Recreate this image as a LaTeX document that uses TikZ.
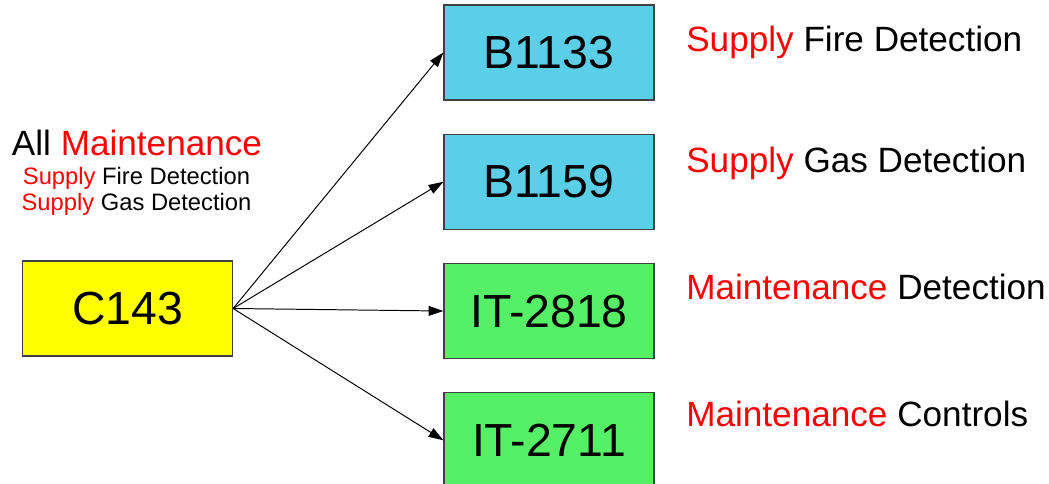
\documentclass[tikz,border=0pt]{standalone}
\usepackage{fontspec}
\setmainfont{Liberation Sans}
\usetikzlibrary{arrows.meta, positioning}

\definecolor{boxcyan}{RGB}{91,207,232}
\definecolor{boxgreen}{RGB}{85,240,101}
\definecolor{boxyellow}{RGB}{255,255,0}

\begin{document}
\begin{tikzpicture}[
    node distance=0.825cm and 5.275cm,
    tagnode/.style={draw=black!75, line width=0.9pt, minimum width=5.25cm, minimum height=2.375cm, inner sep=0pt, font=\fontsize{33pt}{38pt}\selectfont},
    supplynode/.style={tagnode, fill=boxcyan},
    maintnode/.style={tagnode, fill=boxgreen},
    note/.style={anchor=base west, inner sep=0pt, font=\fontsize{25pt}{30pt}\selectfont},
    headnote/.style={anchor=base, inner sep=0pt, font=\fontsize{25pt}{30pt}\selectfont},
    subnote/.style={anchor=base, inner sep=0pt, font=\fontsize{16.9pt}{20pt}\selectfont},
    arrow/.style={-{Triangle[length=10.5pt, width=7pt]}, line width=0.7pt},
]
\useasboundingbox (0,0) rectangle (26.225,-12.1);

% Nodes
\node[tagnode, fill=boxyellow] (c143) at (3.1875,-7.7125) {C143};
\node[supplynode] (b1133) at (13.725,-1.3125) {B1133};
\node[supplynode, below=of b1133] (b1159) {B1159};
\node[maintnode, below=of b1159] (it2818) {IT-2818};
\node[maintnode, below=of it2818] (it2711) {IT-2711};

% Text over C143
\node[headnote] (allmaint) at (3.425,-3.9) {All \textcolor{red}{Maintenance}};
\node[subnote] (subfire) at (3.4125,-4.625) {\textcolor{red}{Supply} Fire Detection};
\node[subnote] (subgas) at (3.4125,-5.275) {\textcolor{red}{Supply} Gas Detection};

% Text beside each box
\node[note] (lblfire) at (17.15,-1.3) {\textcolor{red}{Supply} Fire Detection};
\node[note] (lblgas) at (17.15,-4.325) {\textcolor{red}{Supply} Gas Detection};
\node[note] (lbldet) at (17.15,-7.475) {\textcolor{red}{Maintenance} Detection};
\node[note] (lblctrl) at (17.15,-10.675) {\textcolor{red}{Maintenance} Controls};

% Arrows
\draw[arrow] (c143.east) -- (b1133.west);
\draw[arrow] (c143.east) -- (b1159.west);
\draw[arrow] (c143.east) -- (it2818.west);
\draw[arrow] (c143.east) -- (it2711.west);

\end{tikzpicture}
\end{document}
